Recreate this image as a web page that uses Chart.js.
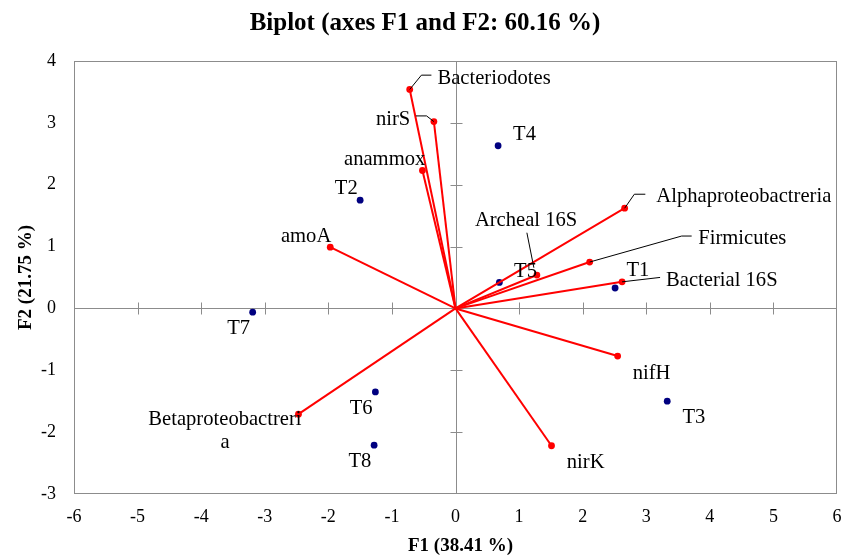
<!DOCTYPE html>
<html>
<head>
<meta charset="utf-8">
<script src="https://cdn.jsdelivr.net/npm/chart.js@4/dist/chart.umd.min.js"></script>
<style>
  html, body { margin: 0; padding: 0; background: #ffffff; }
  #wrap { width: 844px; height: 559px; }
</style>
</head>
<body>
<div id="wrap"><canvas id="biplot" width="844" height="559"></canvas></div>
<script>
// Variable loadings (F1, F2) drawn as vectors from the origin
const variableNames = ['Bacteriodotes', 'nirS', 'anammox', 'Alphaproteobactreria', 'Firmicutes',
  'Archeal 16S', 'Bacterial 16S', 'amoA', 'Betaproteobactreria', 'nifH', 'nirK'];
const variableF1 = [-0.72, -0.34, -0.52, 2.66, 2.11, 1.28, 2.62, -1.97, -2.47, 2.55, 1.51];
const variableF2 = [3.54, 3.02, 2.23, 1.62, 0.75, 0.54, 0.43, 0.99, -1.71, -0.77, -2.22];

// Observation scores (F1, F2)
const observationNames = ['T1', 'T2', 'T3', 'T4', 'T5', 'T6', 'T7', 'T8'];
const observationF1 = [2.51, -1.50, 3.33, 0.67, 0.69, -1.26, -3.19, -1.28];
const observationF2 = [0.33, 1.75, -1.50, 2.63, 0.42, -1.35, -0.06, -2.21];

// Axis ticks
const xTickValues = [-6, -5, -4, -3, -2, -1, 0, 1, 2, 3, 4, 5, 6];
const yTickValues = [-3, -2, -1, 0, 1, 2, 3, 4];

const titleText = 'Biplot (axes F1 and F2: 60.16 %)';
const xTitleText = 'F1 (38.41 %)';
const yTitleText = 'F2 (21.75 %)';

// Label placement in pixels relative to each marker (text lines, offsets, leader polyline)
const labelPlacement = {
  'Bacteriodotes':        { lines: ['Bacteriodotes'], dx: 27.7, dy: -5.3, leader: [[0, 0], [11.7, -14.3], [21.7, -14.3]] },
  'nirS':                 { lines: ['nirS'], dx: -58, dy: 3.3, leader: [[-18, -5.7], [-7.3, -5.7], [0, 0]] },
  'anammox':              { lines: ['anammox'], dx: -78.4, dy: -5.7 },
  'Alphaproteobactreria': { lines: ['Alphaproteobactreria'], dx: 31.7, dy: -6, leader: [[0, 0], [9.7, -14], [20.7, -14]] },
  'Firmicutes':           { lines: ['Firmicutes'], dx: 108.6, dy: -18, leader: [[0, 0], [92, -26], [102, -26]] },
  'Archeal 16S':          { lines: ['Archeal 16S'], dx: -62, dy: -49.3, leader: [[-10, -42.3], [-3, -7.3]] },
  'Bacterial 16S':        { lines: ['Bacterial 16S'], dx: 44, dy: 4, leader: [[0, 0], [38, -4.4]] },
  'amoA':                 { lines: ['amoA'], dx: -49.3, dy: -5.6 },
  'Betaproteobactreria':  { lines: ['Betaproteobactreri', 'a'], dx: -73.5, dy: 10.7, center: true, lineGap: 23.3 },
  'nifH':                 { lines: ['nifH'], dx: 15, dy: 22.6 },
  'nirK':                 { lines: ['nirK'], dx: 15.3, dy: 22 },
  'T1': { lines: ['T1'], dx: 11.4, dy: -12 },
  'T2': { lines: ['T2'], dx: -25.3, dy: -5.7 },
  'T3': { lines: ['T3'], dx: 15.3, dy: 21.3 },
  'T4': { lines: ['T4'], dx: 15, dy: -6 },
  'T5': { lines: ['T5'], dx: 14.7, dy: -5.4 },
  'T6': { lines: ['T6'], dx: -25.7, dy: 22.3 },
  'T7': { lines: ['T7'], dx: -25.4, dy: 21.7 },
  'T8': { lines: ['T8'], dx: -25.7, dy: 22 }
};

const SERIF = '"Liberation Serif", "Times New Roman", serif';
const RED = '#ff0000';
const NAVY = '#000080';
const AXIS_GREY = '#8c8c8c';

// One two-point dataset per variable: origin -> loading
const vectorDatasets = variableNames.map((name, i) => ({
  label: name,
  data: [{ x: 0, y: 0 }, { x: variableF1[i], y: variableF2[i] }],
  showLine: true,
  borderColor: RED,
  borderWidth: 2,
  backgroundColor: RED,
  pointRadius: [0, 3.4],
  pointHoverRadius: [0, 3.4],
  pointBorderWidth: 0
}));

const observationDataset = {
  label: 'Observations',
  data: observationNames.map((name, i) => ({ x: observationF1[i], y: observationF2[i] })),
  showLine: false,
  backgroundColor: NAVY,
  borderColor: NAVY,
  pointRadius: 3.4,
  pointBorderWidth: 0
};

const biplotOverlay = {
  id: 'biplotOverlay',
  beforeDatasetsDraw(chart) {
    const { ctx, chartArea: a, scales: { x, y } } = chart;
    ctx.save();
    ctx.strokeStyle = AXIS_GREY;
    ctx.lineWidth = 1;
    // plot frame
    ctx.strokeRect(Math.round(a.left) + 0.5, Math.round(a.top) + 0.5,
      Math.round(a.right - a.left) - 1, Math.round(a.bottom - a.top) - 1);
    // axes through the origin with cross ticks
    const x0 = Math.round(x.getPixelForValue(0)) + 0.5;
    const y0 = Math.round(y.getPixelForValue(0)) + 0.5;
    ctx.beginPath();
    ctx.moveTo(a.left, y0); ctx.lineTo(a.right, y0);
    ctx.moveTo(x0, a.top); ctx.lineTo(x0, a.bottom);
    xTickValues.forEach(v => {
      if (v === 0 || v === x.min || v === x.max) return;
      const px = Math.round(x.getPixelForValue(v)) + 0.5;
      ctx.moveTo(px, y0 - 6); ctx.lineTo(px, y0 + 6);
    });
    yTickValues.forEach(v => {
      if (v === 0 || v === y.min || v === y.max) return;
      const py = Math.round(y.getPixelForValue(v)) + 0.5;
      ctx.moveTo(x0 - 6, py); ctx.lineTo(x0 + 6, py);
    });
    ctx.stroke();
    ctx.restore();
  },
  afterDatasetsDraw(chart) {
    const { ctx, scales: { x, y } } = chart;
    ctx.save();
    ctx.font = '20.6px ' + SERIF;
    ctx.fillStyle = '#000';
    ctx.textBaseline = 'alphabetic';
    const place = (name, fx, fy) => {
      const p = labelPlacement[name];
      if (!p) return;
      const px = x.getPixelForValue(fx);
      const py = y.getPixelForValue(fy);
      if (p.leader) {
        ctx.strokeStyle = '#000';
        ctx.lineWidth = 1;
        ctx.beginPath();
        p.leader.forEach(([lx, ly], k) => {
          if (k === 0) ctx.moveTo(px + lx, py + ly); else ctx.lineTo(px + lx, py + ly);
        });
        ctx.stroke();
      }
      ctx.textAlign = p.center ? 'center' : 'left';
      p.lines.forEach((t, k) => {
        ctx.fillText(t, px + p.dx, py + p.dy + k * (p.lineGap || 0));
      });
    };
    variableNames.forEach((n, i) => place(n, variableF1[i], variableF2[i]));
    observationNames.forEach((n, i) => place(n, observationF1[i], observationF2[i]));
    ctx.restore();
  },
  afterDraw(chart) {
    const { ctx, chartArea: a } = chart;
    ctx.save();
    ctx.fillStyle = '#000';
    ctx.textBaseline = 'alphabetic';
    ctx.textAlign = 'center';
    ctx.font = 'bold 25px ' + SERIF;
    ctx.fillText(titleText, chart.width / 2 + 3, 29.5);
    ctx.font = 'bold 19px ' + SERIF;
    ctx.fillText(xTitleText, (a.left + a.right) / 2 + 5, 551);
    ctx.translate(31, (a.top + a.bottom) / 2);
    ctx.rotate(-Math.PI / 2);
    ctx.fillText(yTitleText, 0, 0);
    ctx.restore();
  }
};

Chart.defaults.font.family = SERIF;

new Chart(document.getElementById('biplot'), {
  type: 'scatter',
  data: { datasets: [...vectorDatasets, observationDataset] },
  options: {
    responsive: false,
    animation: false,
    devicePixelRatio: 1,
    layout: { padding: { top: 61, right: 7, bottom: 0, left: 0 } },
    plugins: {
      legend: { display: false },
      title: { display: false },
      tooltip: { enabled: false }
    },
    scales: {
      x: {
        type: 'linear',
        min: -6, max: 6,
        afterFit(scale) { scale.height = 65; scale.paddingLeft = 0; scale.paddingRight = 0; },
        afterBuildTicks(scale) { scale.ticks = xTickValues.map(v => ({ value: v })); },
        ticks: { color: '#000', font: { size: 18 }, padding: 12 },
        grid: { display: false, drawTicks: false },
        border: { display: false }
      },
      y: {
        type: 'linear',
        min: -3, max: 4,
        afterFit(scale) { scale.width = 74; scale.paddingTop = 0; scale.paddingBottom = 0; },
        afterBuildTicks(scale) { scale.ticks = yTickValues.map(v => ({ value: v })); },
        ticks: { color: '#000', font: { size: 18 }, padding: 18 },
        grid: { display: false, drawTicks: false },
        border: { display: false }
      }
    }
  },
  plugins: [biplotOverlay]
});
</script>
</body>
</html>
